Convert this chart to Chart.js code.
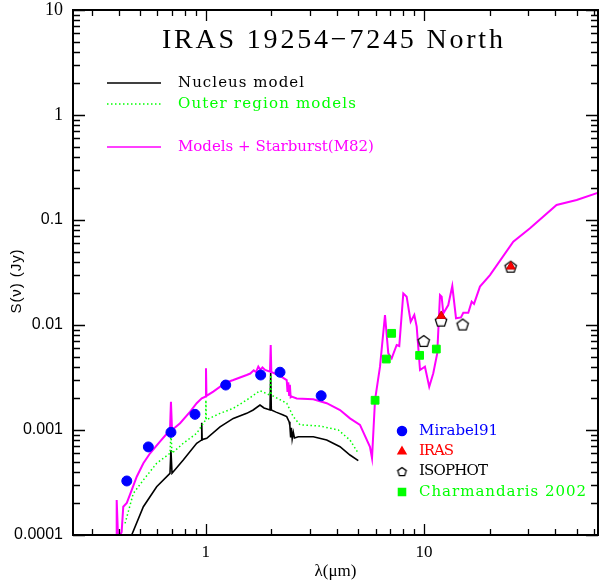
<!DOCTYPE html>
<html>
<head>
<meta charset="utf-8">
<script src="https://cdn.jsdelivr.net/npm/chart.js@4.4.0/dist/chart.umd.min.js"></script>
<style>
  html, body { margin: 0; padding: 0; background: #fff; overflow: hidden; }
  #wrap { width: 599px; height: 586px; }
  canvas { display: block; }
</style>
</head>
<body>
<div id="wrap"><canvas id="sedChart" width="599" height="586"></canvas></div>
<script>
// Nucleus model (black)
const lamNucleus  = [0.458, 0.518, 0.596, 0.686, 0.693, 0.701, 0.789, 0.909, 0.955, 0.959, 0.963, 1.011, 1.163, 1.338, 1.541, 1.65, 1.773, 1.85, 1.970, 1.985, 1.998, 2.1, 2.25, 2.35, 2.41, 2.43, 2.45, 2.47, 2.49, 2.52, 2.55, 2.656, 3.111, 3.584, 4.124, 4.581, 5.0];
const fluxNucleus = [1.0e-4, 1.86e-4, 2.88e-4, 3.87e-4, 6.45e-4, 3.87e-4, 5.18e-4, 7.47e-4, 8.0e-4, 1.17e-3, 8.1e-4, 8.34e-4, 1.07e-3, 1.29e-3, 1.44e-3, 1.55e-3, 1.73e-3, 1.62e-3, 1.55e-3, 3.49e-3, 1.55e-3, 1.48e-3, 1.40e-3, 1.34e-3, 1.20e-3, 1.1e-3, 8.5e-4, 1.05e-3, 8.2e-4, 9.5e-4, 8.4e-4, 8.63e-4, 8.63e-4, 8.03e-4, 6.93e-4, 5.78e-4, 5.10e-4];

// Outer region models (green dotted)
const lamOuter  = [0.427, 0.466, 0.518, 0.596, 0.686, 0.693, 0.701, 0.789, 0.909, 1.0, 1.002, 1.006, 1.163, 1.338, 1.541, 1.773, 1.970, 1.985, 1.998, 2.35, 2.52, 2.704, 3.339, 4.05, 4.581, 5.0];
const fluxOuter = [1.29e-4, 2.49e-4, 3.34e-4, 4.82e-4, 6.0e-4, 9.36e-4, 6.0e-4, 7.47e-4, 9.3e-4, 1.25e-3, 1.93e-3, 1.25e-3, 1.44e-3, 1.61e-3, 1.93e-3, 2.37e-3, 2.15e-3, 3.34e-3, 2.15e-3, 1.80e-3, 1.34e-3, 1.12e-3, 1.09e-3, 1.0e-3, 8.03e-4, 6.0e-4];

// Models + Starburst(M82) (magenta)
const lamStarburst  = [0.390, 0.391, 0.397, 0.412, 0.419, 0.435, 0.458, 0.483, 0.518, 0.556, 0.617, 0.686, 0.693, 0.701, 0.763, 0.847, 0.909, 0.959, 1.0, 1.003, 1.008, 1.083, 1.235, 1.338, 1.541, 1.60, 1.66, 1.70, 1.742, 1.78, 1.82, 1.869, 1.970, 1.985, 1.998, 2.19, 2.35, 2.37, 2.39, 2.41, 2.43, 2.45, 2.477, 2.612, 3.111, 3.584, 4.124, 4.581, 5.091, 5.656, 5.78, 5.966, 6.288, 6.628, 6.863, 7.112, 7.498, 7.705, 8.04, 8.33, 8.69, 9.03, 9.26, 9.59, 10.1, 10.57, 11.03, 11.5, 11.84, 12.05, 12.26, 12.92, 13.48, 14.02, 14.77, 15.14, 15.96, 16.54, 16.95, 18.05, 20.06, 25.65, 30.6, 40.5, 50.06, 62.9];
const fluxStarburst = [9e-5, 2.15e-4, 9e-5, 1.07e-4, 1.86e-4, 2.02e-4, 2.68e-4, 3.59e-4, 4.82e-4, 6.0e-4, 7.74e-4, 1.0e-3, 1.86e-3, 1.0e-3, 1.16e-3, 1.49e-3, 1.80e-3, 2.0e-3, 2.08e-3, 3.87e-3, 2.11e-3, 2.32e-3, 2.82e-3, 2.99e-3, 3.34e-3, 3.45e-3, 3.7e-3, 3.55e-3, 4.01e-3, 3.75e-3, 3.95e-3, 3.73e-3, 3.59e-3, 6.45e-3, 3.57e-3, 3.27e-3, 2.99e-3, 2.3e-3, 2.85e-3, 2.15e-3, 2.7e-3, 2.05e-3, 2.08e-3, 2.0e-3, 1.96e-3, 1.80e-3, 1.55e-3, 1.29e-3, 1.12e-3, 6.93e-4, 5.41e-4, 1.93e-3, 4.01e-3, 0.01245, 5.37e-3, 4.82e-3, 6.45e-3, 6.31e-3, 0.0200, 0.0186, 0.01075, 0.01245, 9.64e-3, 3.73e-3, 4.01e-3, 2.58e-3, 3.47e-3, 5.37e-3, 0.0193, 0.0186, 0.0129, 0.0155, 0.0235, 0.0116, 0.0118, 0.0131, 0.0131, 0.0167, 0.0159, 0.0232, 0.0299, 0.0622, 0.0833, 0.139, 0.155, 0.182];

// Photometry
const lamMirabel  = [0.435, 0.546, 0.693, 0.893, 1.235, 1.786, 2.19, 3.38];
const fluxMirabel = [3.27e-4, 6.9e-4, 9.5e-4, 1.41e-3, 2.68e-3, 3.34e-3, 3.55e-3, 2.12e-3];
const lamIras  = [12, 25];
const fluxIras = [0.0122, 0.036];
const lamIsophot  = [9.97, 11.97, 15.04, 24.95];
const fluxIsophot = [7.04e-3, 0.011, 0.0101, 0.0359];
const lamCharm  = [5.97, 6.72, 7.11, 9.55, 11.39];
const fluxCharm = [1.92e-3, 4.74e-3, 8.33e-3, 5.14e-3, 5.9e-3];

// Axis ticks
const xMajorTicks = [1, 10];
const xTickLabels = ['1', '10'];
const yMajorTicks = [0.0001, 0.001, 0.01, 0.1, 1, 10];
const yTickLabels = ['0.0001', '0.001', '0.01', '0.1', '1', '10'];

function toPoints(xs, ys) {
    return xs.map((v, i) => ({ x: v, y: ys[i] }));
}

function minorTicks(majors, lo, hi) {
    const out = [];
    majors.concat([majors[0] / 10, majors[majors.length - 1] * 10]).forEach(m => {
        for (let k = 2; k <= 9; k++) {
            const v = m * k;
            if (v > lo && v < hi) out.push(v);
        }
    });
    return out;
}

const X_MIN = 0.2466, X_MAX = 62.7;
const xMinor = minorTicks(xMajorTicks, X_MIN, X_MAX);
const yMinor = minorTicks(yMajorTicks, 0.0001, 10);

function makePentagon(r) {
    const s = Math.ceil(r * 2 + 4);
    const c = document.createElement('canvas');
    c.width = s; c.height = s;
    const g = c.getContext('2d');
    g.beginPath();
    for (let i = 0; i < 5; i++) {
        const a = -Math.PI / 2 + i * 2 * Math.PI / 5;
        const px = s / 2 + r * Math.cos(a), py = s / 2 + 0.5 + r * Math.sin(a);
        if (i) g.lineTo(px, py); else g.moveTo(px, py);
    }
    g.closePath();
    g.fillStyle = '#fff';
    g.fill();
    g.lineWidth = 1.3;
    g.strokeStyle = '#000';
    g.stroke();
    return c;
}
const pentBig = makePentagon(6);
const pentSmall = makePentagon(4.5);

// fit a string to a given width by adjusting letter spacing
function fitText(ctx, text, x, y, width) {
    ctx.letterSpacing = '0px';
    const w0 = ctx.measureText(text).width;
    const sp = text.length > 1 ? (width - w0) / (text.length - 1) : 0;
    ctx.letterSpacing = sp.toFixed(2) + 'px';
    ctx.fillText(text, x, y);
    ctx.letterSpacing = '0px';
}

// frame, inward ticks, title, legends
const decorPlugin = {
    id: 'decor',
    afterDraw(chart) {
        const { ctx, chartArea: a, scales } = chart;
        const xs = scales.x, ys = scales.y;
        ctx.save();
        ctx.strokeStyle = '#000';
        ctx.lineWidth = 1.3;
        ctx.beginPath();
        xMajorTicks.concat(xMinor).forEach(v => {
            const px = Math.round(xs.getPixelForValue(v)) + 0.5;
            const len = xMajorTicks.includes(v) ? 11 : 6;
            ctx.moveTo(px, a.bottom); ctx.lineTo(px, a.bottom - len);
            ctx.moveTo(px, a.top); ctx.lineTo(px, a.top + len);
        });
        yMajorTicks.concat(yMinor).forEach(v => {
            const py = Math.round(ys.getPixelForValue(v)) + 0.5;
            const len = yMajorTicks.includes(v) ? 12 : 7;
            ctx.moveTo(a.left, py); ctx.lineTo(a.left + len, py);
            ctx.moveTo(a.right, py); ctx.lineTo(a.right - len, py);
        });
        ctx.stroke();
        ctx.lineWidth = 2;
        ctx.strokeRect(a.left, a.top, a.right - a.left, a.bottom - a.top);

        // title
        ctx.fillStyle = '#000';
        ctx.textBaseline = 'middle';
        ctx.textAlign = 'left';
        ctx.font = '28px "Liberation Serif"';
        fitText(ctx, 'IRAS 19254\u22127245 North', 162, 41, 341);

        // y axis title
        ctx.save();
        ctx.translate(17, 281);
        ctx.rotate(-Math.PI / 2);
        ctx.textAlign = 'center';
        ctx.font = '15px "Liberation Sans"';
        fitText(ctx, 'S(\u03bd) (Jy)', 0, 0, 64);
        ctx.restore();

        // line legend
        ctx.font = '15px "DejaVu Serif"';
        const lineRows = [
            { y: 83, color: '#000000', dash: [], label: 'Nucleus model', w: 126 },
            { y: 104, color: '#00ff00', dash: [1.5, 2.5], label: 'Outer region models', w: 178 },
            { y: 147, color: '#ff00ff', dash: [], label: 'Models + Starburst(M82)', w: 196 }
        ];
        lineRows.forEach(r => {
            ctx.beginPath();
            ctx.setLineDash(r.dash);
            ctx.lineWidth = 1.5;
            ctx.strokeStyle = r.color;
            ctx.moveTo(107, r.y); ctx.lineTo(161, r.y);
            ctx.stroke();
            ctx.setLineDash([]);
            ctx.fillStyle = r.color;
            fitText(ctx, r.label, 178, r.y, r.w);
        });

        // symbol legend
        const symRows = [
            { y: 431, color: '#0000ff', style: 'circle', r: 4.5, label: 'Mirabel91', w: 79 },
            { y: 451.5, color: '#ff0000', style: 'triangle', r: 4.5, label: 'IRAS', w: 35 },
            { y: 471.5, color: '#000000', style: pentSmall, r: 4.5, label: 'ISOPHOT', w: 69 },
            { y: 492, color: '#00ff00', style: 'rect', r: 5, label: 'Charmandaris 2002', w: 167 }
        ];
        symRows.forEach(r => {
            ctx.fillStyle = r.color;
            ctx.strokeStyle = r.color;
            Chart.helpers.drawPoint(ctx, { pointStyle: r.style, radius: r.r, rotation: 0, borderWidth: 1 }, 402, r.y);
            ctx.fillStyle = r.color;
            fitText(ctx, r.label, 419, r.y, r.w);
        });
        ctx.restore();
    }
};

new Chart(document.getElementById('sedChart'), {
    type: 'scatter',
    data: {
        datasets: [{
            label: 'IRAS',
            data: toPoints(lamIras, fluxIras),
            pointStyle: 'triangle',
            pointRadius: 5,
            backgroundColor: '#ff0000',
            borderColor: '#cc0000',
            borderWidth: 1,
            order: 1
        }, {
            label: 'ISOPHOT',
            data: toPoints(lamIsophot, fluxIsophot),
            pointStyle: pentBig,
            order: 2
        }, {
            label: 'Mirabel91',
            data: toPoints(lamMirabel, fluxMirabel),
            pointStyle: 'circle',
            pointRadius: 5,
            backgroundColor: '#0000ff',
            borderColor: '#0000ff',
            borderWidth: 1,
            order: 3
        }, {
            label: 'Charmandaris 2002',
            data: toPoints(lamCharm, fluxCharm),
            pointStyle: 'rect',
            pointRadius: 5.5,
            backgroundColor: '#00ff00',
            borderColor: '#00ff00',
            borderWidth: 1,
            order: 4
        }, {
            label: 'Models + Starburst(M82)',
            data: toPoints(lamStarburst, fluxStarburst),
            showLine: true,
            borderColor: '#ff00ff',
            borderWidth: 2,
            pointRadius: 0,
            tension: 0,
            order: 10
        }, {
            label: 'Outer region models',
            data: toPoints(lamOuter, fluxOuter),
            showLine: true,
            borderColor: '#00ff00',
            borderWidth: 1.5,
            borderDash: [1.5, 2.5],
            pointRadius: 0,
            tension: 0,
            order: 11
        }, {
            label: 'Nucleus model',
            data: toPoints(lamNucleus, fluxNucleus),
            showLine: true,
            borderColor: '#000000',
            borderWidth: 1.6,
            pointRadius: 0,
            tension: 0,
            order: 12
        }]
    },
    options: {
        responsive: false,
        animation: false,
        events: [],
        layout: { autoPadding: false, padding: { top: 10, right: 1, left: 0, bottom: 0 } },
        plugins: {
            legend: { display: false },
            tooltip: { enabled: false }
        },
        scales: {
            x: {
                type: 'logarithmic',
                min: X_MIN,
                max: X_MAX,
                grid: { display: false, drawTicks: false },
                border: { display: false },
                afterBuildTicks: s => { s.ticks = xMajorTicks.map(v => ({ value: v })); },
                afterFit: s => { s.height = 51; s.paddingLeft = 0; s.paddingRight = 0; },
                ticks: {
                    autoSkip: false,
                    maxRotation: 0,
                    padding: 7,
                    color: '#000',
                    font: { family: 'Liberation Serif', size: 17 },
                    callback: v => xTickLabels[xMajorTicks.indexOf(v)] || ''
                },
                title: {
                    display: true,
                    text: '\u03bb(\u03bcm)',
                    color: '#000',
                    font: { family: 'Liberation Serif', size: 17 },
                    padding: { top: 0, bottom: 4 }
                }
            },
            y: {
                type: 'logarithmic',
                min: 0.0001,
                max: 10,
                grid: { display: false, drawTicks: false },
                border: { display: false },
                afterBuildTicks: s => { s.ticks = yMajorTicks.map(v => ({ value: v })); },
                afterFit: s => { s.width = 73; s.paddingTop = 0; s.paddingBottom = 0; },
                ticks: {
                    autoSkip: false,
                    padding: 10,
                    color: '#000',
                    font: c => (c.tick && c.tick.value >= 1)
                        ? { family: 'Liberation Serif', size: 18 }
                        : { family: 'Liberation Sans', size: 16 },
                    callback: v => yTickLabels[yMajorTicks.indexOf(v)] || ''
                }
            }
        }
    },
    plugins: [decorPlugin]
});
</script>
</body>
</html>
